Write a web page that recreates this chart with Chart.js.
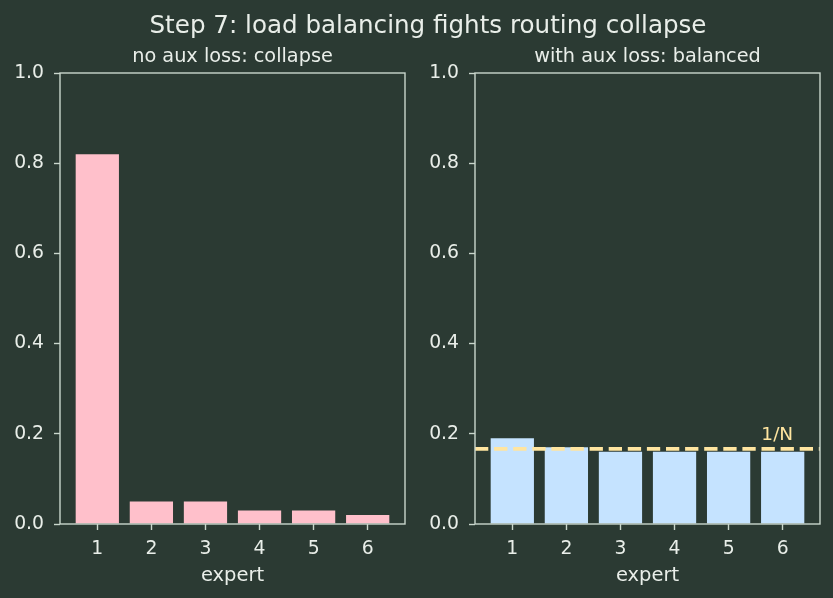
<!DOCTYPE html>
<html><head><meta charset="utf-8">
<script src="https://cdn.jsdelivr.net/npm/chart.js@4.4.1/dist/chart.umd.min.js"></script>
<style>
html,body{margin:0;padding:0;background:#2b3a33;width:833px;height:598px;overflow:hidden}
canvas{position:absolute;left:0;top:0}
</style></head><body>
<canvas id="c1" width="833" height="598"></canvas>
<canvas id="c2" width="833" height="598"></canvas>
<script>
// ---- data ----
const experts = [1, 2, 3, 4, 5, 6];
const tickLabels = ['1', '2', '3', '4', '5', '6'];
const noAuxLoad = [0.82, 0.05, 0.05, 0.03, 0.03, 0.02];
const withAuxLoad = [0.19, 0.17, 0.16, 0.16, 0.16, 0.16];
const yTicks = [0, 0.2, 0.4, 0.6, 0.8, 1.0];
const yTickLabels = ['0.0', '0.2', '0.4', '0.6', '0.8', '1.0'];
const uniformShare = 1 / experts.length;
const suptitle = 'Step 7: load balancing fights routing collapse';
const panelTitles = ['no aux loss: collapse', 'with aux loss: balanced'];
const xLabel = 'expert';
const refLabel = '1/N';

// ---- style ----
const FONT = '"DejaVu Sans", sans-serif';
const TXT = '#e9eee9';
const SPINE = '#c9d6cc';
const PINK = '#ffc0cb';
const BLUE = '#c5e3ff';
const REF = '#ffe5a0';
const xMin = 0.31, xMax = 6.69;

const deco = {
  id: 'deco',
  afterDatasetsDraw(chart, args, o) {
    const ctx = chart.ctx, a = chart.chartArea;
    ctx.save();
    if (o.ref) {
      const y = chart.scales.y.getPixelForValue(uniformShare);
      ctx.beginPath();
      ctx.rect(a.left, a.top, a.right - a.left, a.bottom - a.top);
      ctx.clip();
      ctx.strokeStyle = REF; ctx.lineWidth = 3.6; ctx.setLineDash([13.3, 5.8]);
      ctx.beginPath(); ctx.moveTo(a.left, y); ctx.lineTo(a.right, y); ctx.stroke();
      ctx.restore(); ctx.save();
      ctx.fillStyle = REF; ctx.font = '18.5px ' + FONT;
      ctx.textAlign = 'center'; ctx.textBaseline = 'alphabetic';
      ctx.fillText(refLabel, chart.scales.x.getPixelForValue(5.9), chart.scales.y.getPixelForValue(uniformShare + 0.02));
    }
    ctx.setLineDash([]);
    ctx.strokeStyle = SPINE; ctx.lineWidth = 1.4;
    ctx.strokeRect(a.left, a.top, a.right - a.left, a.bottom - a.top);
    ctx.fillStyle = TXT; ctx.textAlign = 'center'; ctx.textBaseline = 'alphabetic';
    ctx.font = '19.3px ' + FONT;
    ctx.fillText(o.title, (a.left + a.right) / 2, a.top - 11.3);
    if (o.sup) {
      ctx.font = '24.6px ' + FONT;
      ctx.fillText(suptitle, 428, 33);
    }
    ctx.restore();
  }
};

function makeOpts(pad, yWidth, title, sup, ref) {
  const tickFont = { family: FONT, size: 18.8 };
  const labelFont = { family: FONT, size: 19.5 };
  const grid = { display: true, offset: false, drawOnChartArea: false, drawTicks: true, tickLength: 6, tickWidth: 1.4, color: SPINE };
  return {
    responsive: false, animation: false, devicePixelRatio: 1,
    layout: { padding: pad },
    plugins: {
      legend: { display: false }, tooltip: { enabled: false }, title: { display: false },
      deco: { title: title, sup: sup, ref: ref }
    },
    scales: {
      x: {
        type: 'linear', min: xMin, max: xMax, offset: false,
        afterBuildTicks: s => { s.ticks = experts.map(v => ({ value: v })); },
        afterFit: s => { s.height = 74; },
        ticks: { color: TXT, font: tickFont, padding: 8, autoSkip: false, maxRotation: 0,
                 callback: (v, i) => tickLabels[i] },
        grid: grid, border: { display: false },
        title: { display: true, text: xLabel, color: TXT, font: labelFont, padding: { top: 0, bottom: 10 } }
      },
      y: {
        min: 0, max: 1,
        afterBuildTicks: s => { s.ticks = yTicks.map(v => ({ value: v })); },
        afterFit: s => { s.width = yWidth; },
        ticks: { color: TXT, font: tickFont, padding: 10, callback: (v, i) => yTickLabels[i] },
        grid: grid, border: { display: false }
      }
    }
  };
}

function ds(vals, color) {
  return {
    data: experts.map((e, i) => ({ x: e, y: vals[i] })),
    backgroundColor: color, borderWidth: 0,
    barPercentage: 0.8, categoryPercentage: 1.0
  };
}

new Chart(document.getElementById('c1'), {
  type: 'bar',
  data: { datasets: [ds(noAuxLoad, PINK)] },
  options: makeOpts({ left: 0, right: 428, top: 73, bottom: 0 }, 60, panelTitles[0], true, false),
  plugins: [deco]
});
new Chart(document.getElementById('c2'), {
  type: 'bar',
  data: { datasets: [ds(withAuxLoad, BLUE)] },
  options: makeOpts({ left: 416, right: 13, top: 73, bottom: 0 }, 59, panelTitles[1], false, true),
  plugins: [deco]
});
</script>
</body></html>
